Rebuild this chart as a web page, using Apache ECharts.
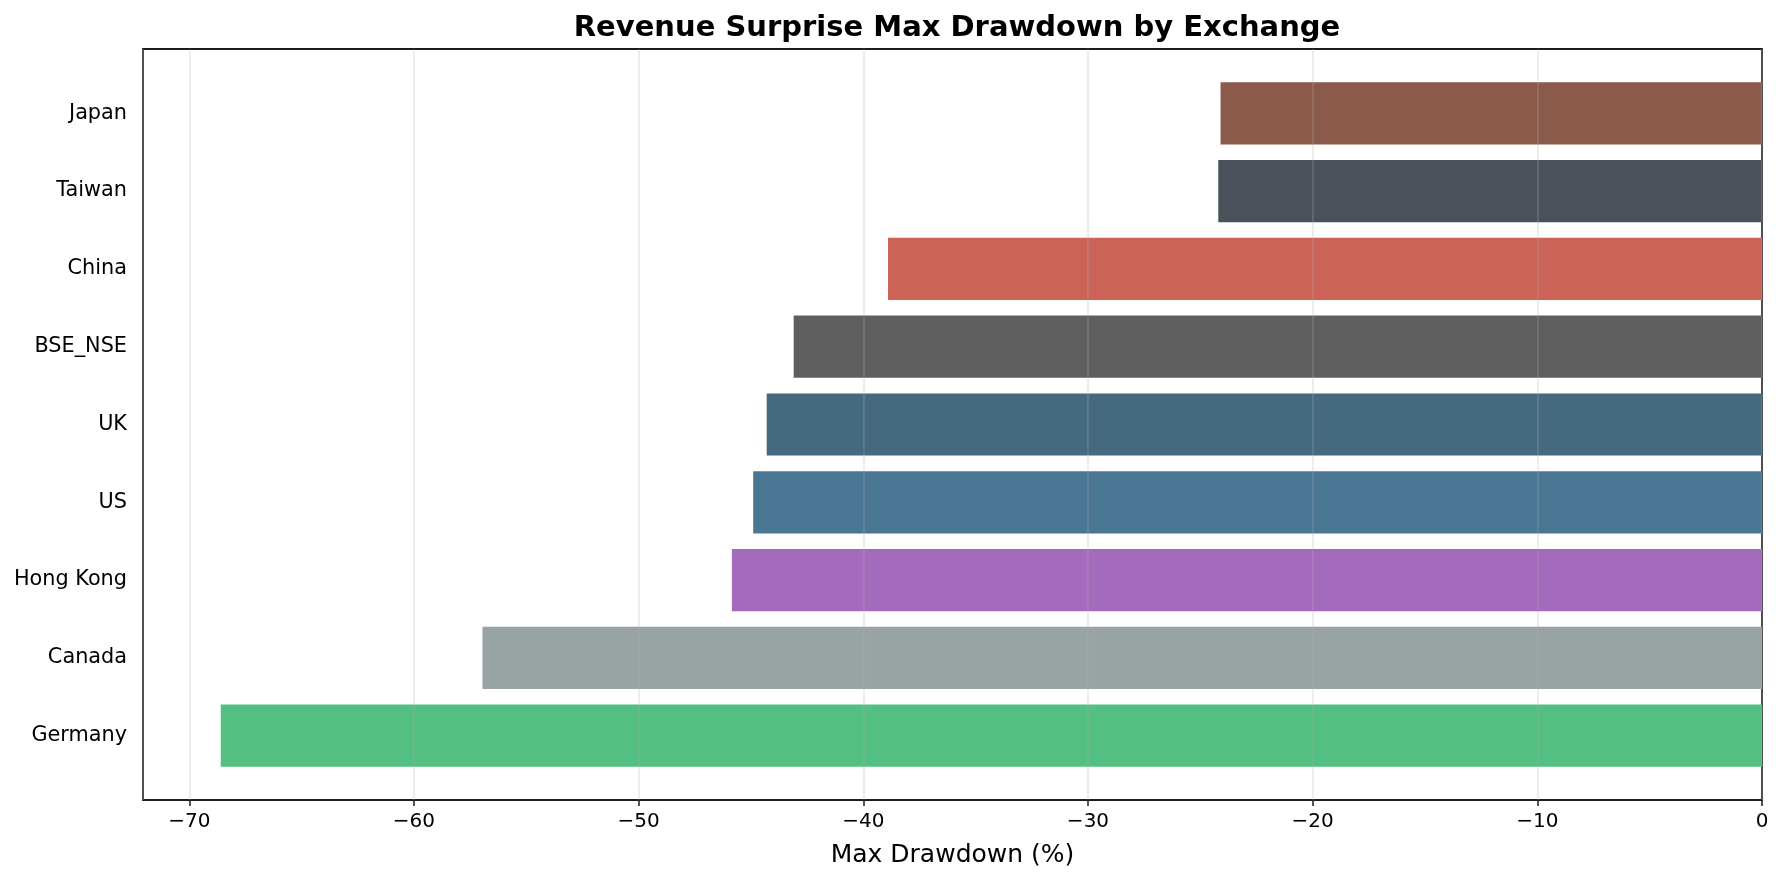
<!DOCTYPE html>
<html>
<head>
<meta charset="utf-8">
<script src="https://cdn.jsdelivr.net/npm/echarts@6/dist/echarts.min.js"></script>
<style>
  html, body { margin: 0; padding: 0; background: #fff; }
  #chart { width: 1784px; height: 882px; }
</style>
</head>
<body>
<div id="chart"></div>
<script>
// exchanges, top to bottom
var exchanges = ['Japan', 'Taiwan', 'China', 'BSE_NSE', 'UK', 'US', 'Hong Kong', 'Canada', 'Germany'];
// max drawdown (%) per exchange
var drawdowns = [-24.1, -24.2, -38.9, -43.1, -44.3, -44.9, -45.85, -56.95, -68.6];
var barColors = ['#8b5a4a', '#4a515b', '#cb6357', '#5e5e5e', '#45697f', '#497693', '#a46bbc', '#98a4a3', '#53bf81'];
var xTicks = [-70, -60, -50, -40, -30, -20, -10, 0];

var FONT = 'DejaVu Sans';
var chart = echarts.init(document.getElementById('chart'), null, { renderer: 'canvas' });

var option = {
  backgroundColor: '#ffffff',
  animation: false,
  title: {
    text: 'Revenue Surprise Max Drawdown by Exchange',
    left: 952,
    top: 9,
    textAlign: 'center',
    textStyle: { fontFamily: FONT, fontSize: 29, fontWeight: 'bold', color: '#000' }
  },
  grid: [
    // frame + x axis
    { left: 143, right: 22, top: 49, bottom: 82, show: true, borderColor: '#1e1e1e', borderWidth: 1.8, backgroundColor: 'transparent' },
    // bars
    { left: 143, right: 22, top: 74.4, bottom: 107.4 }
  ],
  xAxis: [
    {
      gridIndex: 0,
      type: 'value',
      min: -72.06,
      max: 0,
      splitNumber: 7,
      z: 3,
      name: 'Max Drawdown (%)',
      nameLocation: 'middle',
      nameGap: 43,
      nameTextStyle: { fontFamily: FONT, fontSize: 25, color: '#000' },
      axisLine: { show: false },
      axisTick: {
        show: true, length: 6, inside: false,
        lineStyle: { color: '#1e1e1e', width: 1.5 }
      },
      axisLabel: {
        showMinLabel: false,
        margin: 12,
        fontFamily: FONT, fontSize: 20, color: '#000',
        formatter: function (v) {
          if (xTicks.indexOf(Math.round(v)) < 0 || Math.abs(v - Math.round(v)) > 1e-6) return '';
          return v < 0 ? '\u2212' + Math.abs(v) : String(v);
        }
      },
      splitLine: { show: true, lineStyle: { color: 'rgba(176,176,176,0.3)', width: 1.55 } }
    },
    {
      gridIndex: 1,
      type: 'value',
      min: -72.06,
      max: 0,
      show: false
    }
  ],
  yAxis: [
    {
      gridIndex: 0,
      type: 'value',
      show: false
    },
    {
      gridIndex: 1,
      type: 'category',
      data: exchanges,
      inverse: true,
      axisLine: { show: false },
      axisTick: {
        show: true, length: 6, alignWithLabel: true,
        lineStyle: { color: '#1e1e1e', width: 1.5 }
      },
      axisLabel: { margin: 16, fontFamily: FONT, fontSize: 20.8, color: '#000' },
      splitLine: { show: false }
    }
  ],
  series: [
    {
      type: 'bar',
      xAxisIndex: 1,
      yAxisIndex: 1,
      barWidth: '80%',
      z: 2,
      data: drawdowns.map(function (v, i) {
        return { value: v, itemStyle: { color: barColors[i] } };
      })
    }
  ]
};

chart.setOption(option);
</script>
</body>
</html>
